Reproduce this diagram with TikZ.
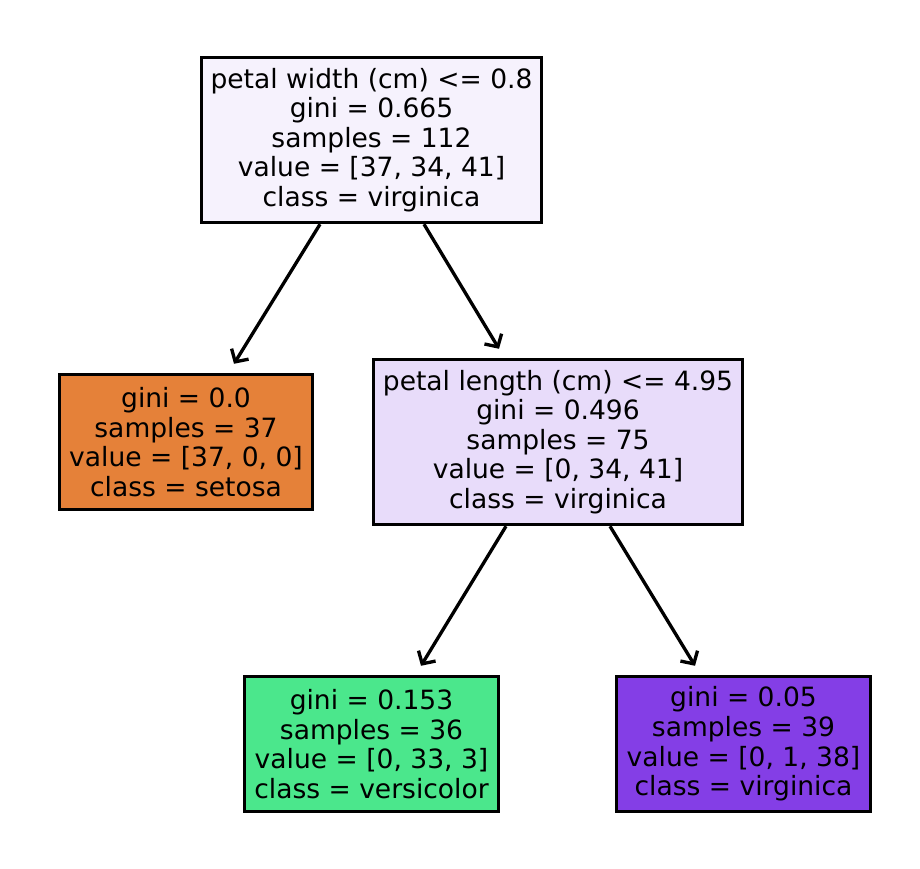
\documentclass[tikz,border=0pt]{standalone}
\usepackage{fontspec}
\setmainfont{DejaVu Sans}
\usetikzlibrary{arrows.meta}
\definecolor{rootc}{HTML}{F6F2FD}
\definecolor{setc}{HTML}{E58139}
\definecolor{petc}{HTML}{E8DCFA}
\definecolor{verc}{HTML}{4BE78C}
\definecolor{virc}{HTML}{843EE6}
\tikzset{
  treenode/.style={draw=black, line width=2.6pt, align=center, inner sep=0pt,
    font=\fontsize{19.9}{22.2}\selectfont, text=black},
  arr/.style={draw=black, line width=2.5pt, -{Straight Barb[length=7pt,width=15pt,line width=2.5pt]}}
}
\begin{document}
\begin{tikzpicture}[x=0.75pt,y=-0.75pt]
\useasboundingbox (0,0) rectangle (920,868);
\node[treenode, fill=rootc, minimum width=340*0.75pt, minimum height=165*0.75pt] (root) at (371.5,140)
  {petal width (cm) <= 0.8\\gini = 0.665\\samples = 112\\value = [37, 34, 41]\\class = virginica};
\node[treenode, fill=setc, minimum width=253*0.75pt, minimum height=135*0.75pt] (setosa) at (186,442)
  {gini = 0.0\\samples = 37\\value = [37, 0, 0]\\class = setosa};
\node[treenode, fill=petc, minimum width=369*0.75pt, minimum height=165*0.75pt] (petal) at (558,442)
  {petal length (cm) <= 4.95\\gini = 0.496\\samples = 75\\value = [0, 34, 41]\\class = virginica};
\node[treenode, fill=verc, minimum width=254*0.75pt, minimum height=135*0.75pt] (versi) at (371.5,744)
  {gini = 0.153\\samples = 36\\value = [0, 33, 3]\\class = versicolor};
\node[treenode, fill=virc, minimum width=254*0.75pt, minimum height=135*0.75pt] (virg) at (743.5,744)
  {gini = 0.05\\samples = 39\\value = [0, 1, 38]\\class = virginica};
\draw[arr] ([xshift=-51.5*0.75pt]root.south) -- ([xshift=48*0.75pt,yshift=9*0.75pt]setosa.north);
\draw[arr] ([xshift=52.5*0.75pt]root.south) -- ([xshift=-59*0.75pt,yshift=9*0.75pt]petal.north);
\draw[arr] ([xshift=-52*0.75pt]petal.south) -- ([xshift=49.5*0.75pt,yshift=9*0.75pt]versi.north);
\draw[arr] ([xshift=52*0.75pt]petal.south) -- ([xshift=-48.5*0.75pt,yshift=9*0.75pt]virg.north);
\end{tikzpicture}
\end{document}
